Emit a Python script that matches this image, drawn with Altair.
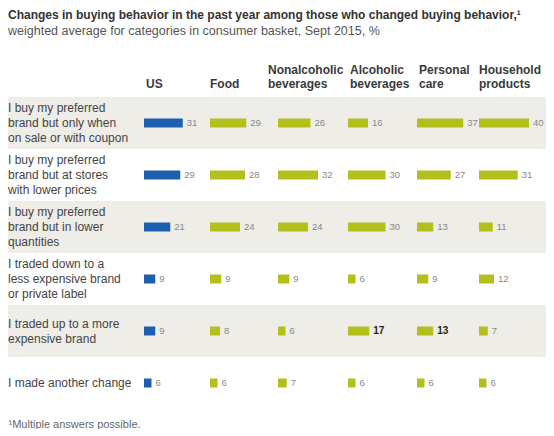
import pandas as pd
import altair as alt

# rows, columns and values
rows = [
    "I buy my preferred\nbrand but only when\non sale or with coupon",
    "I buy my preferred\nbrand but at stores\nwith lower prices",
    "I buy my preferred\nbrand but in lower\nquantities",
    "I traded down to a\nless expensive brand\nor private label",
    "I traded up to a more\nexpensive brand",
    "I made another change",
]
columns = ["US", "Food", "Nonalcoholic beverages", "Alcoholic beverages", "Personal care", "Household products"]
header_top = ["", "", "Nonalcoholic", "Alcoholic", "Personal", "Household"]
header_bottom = ["US", "Food", "beverages", "beverages", "care", "products"]

us = [31, 29, 21, 9, 9, 6]
food = [29, 28, 24, 9, 8, 6]
nonalcoholic = [26, 32, 24, 9, 6, 7]
alcoholic = [16, 30, 30, 6, 17, 6]
personal_care = [37, 27, 13, 9, 13, 6]
household = [40, 31, 11, 12, 7, 6]

# cells written in bold in the original
highlighted = [(4, 3), (4, 4)]

values = [us, food, nonalcoholic, alcoholic, personal_care, household]

# layout
W = 538
ROW_STEP = 52
LINE_H = 15
PX = 1.25  # pixels per percentage point
col_px = [136, 202, 270, 340, 409, 471]
header_shift = [2, 0, -10, 2, 2, 0]

BLUE = '#1d5fae'
GREEN = '#b3bf1d'
SHADE = '#efede8'
FONT = 'Liberation Sans'

cells = []
for j, col in enumerate(columns):
    for i, row in enumerate(rows):
        start = col_px[j] / PX
        cells.append({
            'row': row,
            'col': col,
            'group': 'US' if j == 0 else 'category',
            'value': values[j][i],
            'start': start,
            'end': start + values[j][i],
            'bold': (i, j) in highlighted,
        })
cells = pd.DataFrame(cells)

labels = pd.DataFrame({
    'row': rows,
    'lines': [r.count('\n') + 1 for r in rows],
    'shaded': [i % 2 == 0 for i in range(len(rows))],
})
headers = pd.DataFrame({
    'top': header_top,
    'bottom': header_bottom,
    'x': [(p + s) / PX for p, s in zip(col_px, header_shift)],
})

x_scale = alt.Scale(domain=[0, W / PX], nice=False, zero=False)
y_enc = alt.Y('row:N', sort=rows, axis=None,
              scale=alt.Scale(paddingInner=0, paddingOuter=0))

bands = alt.Chart(labels).transform_filter('datum.shaded').mark_rect(color=SHADE).encode(
    y=y_enc,
    x=alt.value(0),
    x2=alt.value(W)
)

# multi-line labels are drawn downward from the anchor, so lift them by half their extra lines
row_layers = []
for n in sorted(labels['lines'].unique()):
    row_layers.append(
        alt.Chart(labels).transform_filter(f'datum.lines == {n}').mark_text(
            align='left', baseline='middle', lineBreak='\n', lineHeight=LINE_H,
            dy=-(n - 1) * LINE_H / 2, fontSize=12, color='#444', font=FONT
        ).encode(
            y=y_enc,
            x=alt.value(0),
            text='row:N'
        )
    )

bars = alt.Chart(cells).mark_bar(size=9).encode(
    x=alt.X('start:Q', scale=x_scale,
            axis=alt.Axis(title='¹Multiple answers possible.', labels=False, ticks=False,
                          domain=False, grid=False, titleAnchor='start', titleAlign='left',
                          titleFontSize=11, titleFontWeight='normal', titleColor='#666',
                          titleFont=FONT, titlePadding=9)),
    x2='end:Q',
    y=y_enc,
    color=alt.Color('group:N', scale=alt.Scale(domain=['US', 'category'], range=[BLUE, GREEN]),
                    legend=None)
)

value_text = alt.Chart(cells).transform_filter('!datum.bold').mark_text(
    align='left', baseline='middle', dx=4, fontSize=9.5, font=FONT, color='#888'
).encode(
    x=alt.X('end:Q', scale=x_scale),
    y=y_enc,
    text='value:Q'
)

bold_text = alt.Chart(cells).transform_filter('datum.bold').mark_text(
    align='left', baseline='middle', dx=4, fontSize=10, font=FONT,
    color='#222', fontWeight='bold'
).encode(
    x=alt.X('end:Q', scale=x_scale),
    y=y_enc,
    text='value:Q'
)

header_top_text = alt.Chart(headers).mark_text(
    align='left', baseline='bottom', fontSize=12, fontWeight='bold', color='#3a3a3a', font=FONT
).encode(
    x=alt.X('x:Q', scale=x_scale),
    y=alt.value(-20),
    text='top:N'
)

header_bottom_text = alt.Chart(headers).mark_text(
    align='left', baseline='bottom', fontSize=12, fontWeight='bold', color='#3a3a3a', font=FONT
).encode(
    x=alt.X('x:Q', scale=x_scale),
    y=alt.value(-6),
    text='bottom:N'
)

chart = alt.layer(
    bands, *row_layers, bars, value_text, bold_text, header_top_text, header_bottom_text
).properties(
    width=W,
    height=ROW_STEP * len(rows),
    padding=0,
    title=alt.TitleParams(
        text='Changes in buying behavior in the past year among those who changed buying behavior,¹',
        subtitle='weighted average for categories in consumer basket, Sept 2015, %',
        anchor='start', font=FONT, fontSize=12, fontWeight='bold', color='#333',
        subtitleFont=FONT, subtitleFontSize=12.5, subtitleColor='#555',
        subtitlePadding=3, offset=26
    )
).configure_view(stroke=None)

chart.save("out.html", embed_options={"renderer": "svg", "actions": False})
